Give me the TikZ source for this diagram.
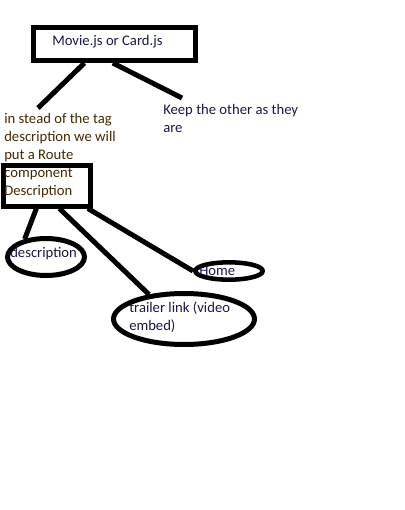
\documentclass[tikz,border=0pt]{standalone}
\usepackage{fontspec}
\setmainfont{Carlito}
\usetikzlibrary{calc,shapes.geometric}
\definecolor{inktext}{RGB}{25,25,70}
\definecolor{notetext}{RGB}{70,40,5}
\tikzset{
  box/.style={draw, rectangle, line width=3.75pt, inner sep=0},
  oval/.style={draw, ellipse, line width=3.75pt, inner sep=0},
  link/.style={line width=3.75pt},
  txt/.style={inner sep=0, align=left, text=inktext},
}

\begin{document}
\begin{tikzpicture}[x=0.75pt, y=-0.75pt, font=\fontsize{11pt}{13.5pt}\selectfont]

    \useasboundingbox (0,0) rectangle (404,510);

    % coordinates to be reused
    \coordinate (M) at (114.5,44);
    \coordinate (R) at (46.5,185.5);
    \coordinate (D) at (46,257);
    \coordinate (H) at (229,271);
    \coordinate (T) at (184,319);
    \coordinate (L) at (38,108);
    \coordinate (K) at (182,98);

    % draw figure
    \node [box, minimum width=121.5pt, minimum height=24.75pt] (movie) at (M) {};
    \node [box, minimum width=65.25pt, minimum height=30.75pt] (route) at (R) {};
    \node [oval, minimum width=57.75pt, minimum height=27.75pt] (descr) at (D) {};
    \node [oval, line width=3.4pt, minimum width=50.6pt, minimum height=13pt] (home) at (H) {};
    \node [oval, minimum width=105.75pt, minimum height=38.25pt] (trailer) at (T) {};

    \draw [link] ($(movie.south west)!0.32!(movie.south east)$) -- (L);
    \draw [link] ($(movie.south west)!0.49!(movie.south east)$) -- (K);
    \draw [link] ($(route.south west)!0.39!(route.south east)$) -- (descr.140);
    \draw [link] ($(route.south west)!0.64!(route.south east)$) -- (trailer.145);
    \draw [link] ($(route.south west)!0.95!(route.south east)$) -- (home.west);

    % add labels
    \node [txt, anchor=west] (movielbl) at (52,42) {Movie.js or Card.js};
    \node [txt, anchor=north west, text=notetext] (note) at (4,113) {in stead of the tag\\description we will\\put a Route\\component\\Description};
    \node [txt, anchor=north west] (keep) at (163,104) {Keep the other as they\\are};
    \node [txt, anchor=west] (descrlbl) at (10,253.5) {description};
    \node [txt, anchor=west] (homelbl) at (199,271) {Home};
    \node [txt, anchor=north west] (trailerlbl) at (129,302) {trailer link (video\\embed)};

\end{tikzpicture}
\end{document}
